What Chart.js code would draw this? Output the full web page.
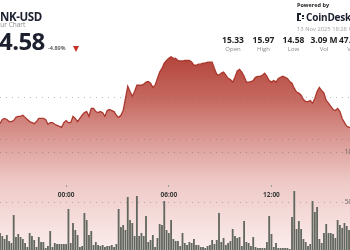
<!DOCTYPE html>
<html>
<head>
<meta charset="utf-8">
<script src="https://cdn.jsdelivr.net/npm/chart.js@4.4.1/dist/chart.umd.min.js"></script>
<style>
  html, body { margin: 0; padding: 0; background: #fff; }
  #wrap { position: relative; width: 350px; height: 250px; overflow: hidden; font-family: 'Open Sans', sans-serif; }
  #chart { position: absolute; left: 0; top: 0; }
  .t { position: absolute; white-space: nowrap; line-height: 1; }
  #sym { left: -9.5px; top: 10.5px; font-size: 11.5px; font-weight: 700; color: #1c1f2e; letter-spacing: -0.4px; }
  #sub { left: -17.5px; top: 22px; font-size: 6.5px; color: #8a8a8a; }
  #last { left: -14px; top: 29px; font-size: 24px; font-weight: 700; color: #1c1f2e; letter-spacing: -0.6px; }
  #chg { left: 48px; top: 46px; font-size: 5.5px; font-weight: 600; color: #444; }
  #arrow { left: 73px; top: 46px; width: 0; height: 0; border-left: 3.5px solid transparent; border-right: 3.5px solid transparent; border-top: 6px solid #c8302a; }
  #pow { left: 297px; top: 3px; font-size: 5.5px; font-weight: 700; color: #222; }
  #logo { left: 297px; top: 13px; width: 8px; height: 8px; }
  #logo span { position: absolute; background: #1c1f2e; }
  #brand { left: 306px; top: 12px; font-size: 10px; font-weight: 700; color: #1c1f2e; letter-spacing: -0.2px; }
  #date { left: 297px; top: 27px; font-size: 5.8px; color: #a0a0a0; }
  .sv { font-size: 8.5px; font-weight: 700; color: #222; width: 40px; text-align: center; top: 36px; }
  .sl { font-size: 6px; color: #888; width: 40px; text-align: center; top: 46px; }
</style>
</head>
<body>
<div id="wrap">
  <canvas id="chart" width="365" height="252"></canvas>
  <div class="t" id="sym">LINK-USD</div>
  <div class="t" id="sub">24 Hour Chart</div>
  <div class="t" id="last">14.58</div>
  <div class="t" id="chg">-4.89%</div>
  <div class="t" id="arrow"></div>
  <div class="t" id="pow">Powered by</div>
  <div class="t" id="logo">
    <span style="left:0;top:0;width:2px;height:8px"></span>
    <span style="left:0;top:0;width:4px;height:1.5px"></span>
    <span style="left:0;top:6.5px;width:4px;height:1.5px"></span>
    <span style="left:5px;top:2px;width:1.5px;height:1.5px"></span>
    <span style="left:5px;top:4.5px;width:1.5px;height:1.5px"></span>
  </div>
  <div class="t" id="brand">CoinDesk Data</div>
  <div class="t" id="date">13 Nov 2025 18:28 UTC</div>
</div>
<script>
// header stats
const statNames = ['Open', 'High', 'Low', 'Vol', 'Value'];
const statValues = ['15.33', '15.97', '14.58', '3.09 M', '47.12 M'];
const statCenters = [233, 263.5, 293.5, 324, 355];

// x axis: one bar / point every 8 minutes
const startTime = '20:08';
const stepMinutes = 8;
const tickTimes = ['00:00', '06:00', '12:00'];

// grid levels
const priceGrid = [14.4, 15.2];
const volumeGrid = [50, 100];

// LINK-USD price
const price = [
  14.70, 14.78, 14.80, 14.78, 14.74, 14.74, 14.76, 14.82, 14.84, 14.84,
  14.86, 14.82, 14.78, 14.74, 14.72, 14.70, 14.74, 14.80, 14.80, 14.80,
  14.78, 14.69, 14.72, 14.72, 14.69, 14.67, 14.65, 14.63, 14.72, 14.76,
  14.72, 14.72, 14.84, 14.80, 14.74, 14.80, 14.86, 14.91, 14.93, 14.84,
  14.99, 14.99, 14.93, 14.91, 14.93, 14.91, 14.84, 14.95, 14.97, 14.95,
  14.93, 14.86, 14.82, 14.86, 14.95, 15.18, 15.41, 15.31, 15.22, 15.31,
  15.43, 15.43, 15.43, 15.45, 15.49, 15.50, 15.47, 15.39, 15.43, 15.56,
  15.68, 15.75, 15.85, 15.90, 15.94, 15.97, 15.94, 15.94, 15.90, 15.89,
  15.89, 15.90, 15.90, 15.90, 15.87, 15.81, 15.81, 15.83, 15.83, 15.85,
  15.85, 15.87, 15.87, 15.87, 15.75, 15.64, 15.62, 15.66, 15.68, 15.62,
  15.56, 15.54, 15.49, 15.58, 15.70, 15.73, 15.68, 15.60, 15.49, 15.49,
  15.50, 15.52, 15.58, 15.60, 15.60, 15.62, 15.66, 15.60, 15.52, 15.49,
  15.52, 15.49, 15.56, 15.58, 15.60, 15.58, 15.56, 15.50, 15.47, 15.37,
  15.30, 15.28, 15.24, 15.16, 15.12, 15.12, 15.14, 15.09, 15.18, 15.31,
  15.39, 15.33, 15.28, 15.14, 15.09, 15.03, 14.97, 14.95, 14.99, 14.93,
  14.80, 14.72, 14.65, 14.63, 14.63, 14.61, 14.62, 14.60, 14.59, 14.60, 14.58
];

// volume, thousands of LINK
const volume = [
  19, 16, 13, 17, 11, 9, 37, 15, 18, 15,
  13, 9, 5, 19, 16, 12, 5, 15, 10, 10,
  4, 6, 21, 5, 9, 8, 8, 8, 8, 8,
  43, 9, 29, 22, 17, 5, 6, 39, 32, 17,
  21, 7, 10, 7, 6, 7, 5, 6, 6, 7,
  5, 8, 43, 25, 27, 22, 55, 32, 29, 16,
  56, 16, 19, 16, 36, 10, 12, 17, 5, 14,
  28, 27, 51, 22, 19, 32, 13, 11, 11, 6,
  19, 9, 7, 10, 9, 13, 7, 7, 5, 5,
  4, 6, 7, 12, 8, 12, 39, 10, 14, 7,
  9, 11, 23, 16, 14, 15, 6, 31, 10, 9,
  6, 15, 5, 4, 4, 4, 4, 10, 36, 18,
  5, 9, 4, 4, 4, 4, 4, 3, 35, 61,
  23, 31, 23, 13, 10, 6, 8, 51, 40, 45,
  13, 9, 19, 28, 19, 19, 18, 14, 32, 27,
  24, 29, 26, 22, 17, 20, 14, 16, 12, 18, 15
];

// time labels
const times = [];
let m = parseInt(startTime.slice(0, 2)) * 60 + parseInt(startTime.slice(3));
for (let i = 0; i < price.length; i++) {
  const mm = m % 1440;
  times.push(String(Math.floor(mm / 60)).padStart(2, '0') + ':' + String(mm % 60).padStart(2, '0'));
  m += stepMinutes;
}

// stats row
const wrap = document.getElementById('wrap');
statNames.forEach((name, i) => {
  const v = document.createElement('div');
  v.className = 't sv';
  v.style.left = (statCenters[i] - 20) + 'px';
  v.textContent = statValues[i];
  wrap.appendChild(v);
  const l = document.createElement('div');
  l.className = 't sl';
  l.style.left = (statCenters[i] - 20) + 'px';
  l.textContent = name;
  wrap.appendChild(l);
});

function areaFill(context) {
  const chart = context.chart;
  const area = chart.chartArea;
  if (!area) return null;
  const g = chart.ctx.createLinearGradient(0, area.top + 55, 0, area.bottom);
  g.addColorStop(0, '#b3433a');
  g.addColorStop(0.23, '#c66a61');
  g.addColorStop(0.43, '#db9a95');
  g.addColorStop(0.64, '#eec8c5');
  g.addColorStop(1, '#fbefee');
  return g;
}

const gridColor = 'rgba(105,105,105,0.45)';

new Chart(document.getElementById('chart'), {
  data: {
    labels: times,
    datasets: [{
      type: 'bar',
      data: volume,
      yAxisID: 'y2',
      backgroundColor: '#62675f',
      categoryPercentage: 1,
      barPercentage: 0.8
    }, {
      type: 'line',
      data: price,
      yAxisID: 'y',
      borderColor: '#ab382f',
      borderWidth: 1.3,
      pointRadius: 0,
      tension: 0,
      fill: 'start',
      backgroundColor: areaFill
    }]
  },
  options: {
    responsive: false,
    animation: false,
    layout: { padding: 0 },
    plugins: { legend: { display: false }, tooltip: { enabled: false } },
    scales: {
      x: {
        type: 'category',
        offset: false,
        position: { y2: 67 },
        grid: { offset: false, drawOnChartArea: false, drawTicks: true, tickLength: 2, color: '#9a9a9a', z: 1 },
        border: { display: false },
        ticks: {
          autoSkip: false, maxRotation: 0, padding: 4, color: '#3a3a3a', z: 2,
          font: { family: 'Open Sans', size: 6.5, weight: 'bold' }
        },
        afterBuildTicks: s => { s.ticks = s.ticks.filter(t => tickTimes.includes(times[t.value])); }
      },
      y: {
        position: 'right',
        min: 12.265,
        max: 17.048,
        afterBuildTicks: s => { s.ticks = priceGrid.map(v => ({ value: v })); },
        ticks: { display: false },
        grid: { drawTicks: false, color: gridColor, z: 1 },
        border: { display: false, dash: [1, 5] }
      },
      y2: {
        position: 'right',
        min: 0,
        max: 252,
        afterBuildTicks: s => { s.ticks = volumeGrid.map(v => ({ value: v })); },
        ticks: {
          mirror: true, crossAlign: 'far', padding: -5, color: '#666', z: 2,
          font: { family: 'Open Sans', size: 6.5 },
          callback: v => v + 'K'
        },
        grid: { drawTicks: false, color: gridColor, z: 1 },
        border: { display: false, dash: [1, 5] }
      }
    }
  }
});
</script>
</body>
</html>
